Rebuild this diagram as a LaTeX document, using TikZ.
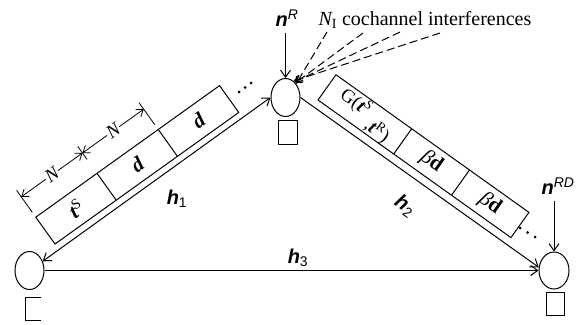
\documentclass[tikz,border=0pt]{standalone}
\usepackage{fontspec}
\setmainfont{Liberation Serif}
\newfontfamily\arialf{Liberation Sans}
\usetikzlibrary{arrows.meta,shapes.geometric,calc}
\begin{document}
\begin{tikzpicture}[x=1pt,y=-1pt,line width=1pt,
  tip/.style={-{Straight Barb[length=7pt,width=10pt]}},
  bitip/.style={{Straight Barb[length=7pt,width=10pt]}-{Straight Barb[length=7pt,width=10pt]}},
  dimtip/.style={line width=0.8pt,{Straight Barb[length=6pt,width=9pt]}-{Straight Barb[length=6pt,width=9pt]}},
  dtip/.style={dashed,dash pattern=on 8pt off 4pt,-{Straight Barb[length=6pt,width=8pt]}},
  nd/.style={draw,ellipse,minimum width=29pt,minimum height=38pt,inner sep=0pt},
  sq/.style={draw,minimum width=19pt,minimum height=24pt,inner sep=0pt},
  boxtxt/.style={font=\fontsize{21}{20}\selectfont,inner sep=0pt},
  gtxt/.style={font=\fontsize{19}{19}\selectfont,inner sep=0pt},
  ntxt/.style={font=\fontsize{19}{20}\selectfont\itshape,fill=white,inner sep=1pt},
  hlab/.style={font=\fontsize{20}{22}\selectfont\arialf,inner sep=0pt},
  ]
\useasboundingbox (0,0) rectangle (577,324);
% nodes
\node[nd] (S) at (29.5,270.5) {};
\node[nd] (R) at (285.5,97.5) {};
\node[nd,minimum width=30pt,minimum height=37pt] (D) at (554,270.5) {};
\node[sq] (sqR) at (287.5,132) {};
\node[sq,minimum width=18pt,minimum height=23pt] (sqD) at (555,303.5) {};
\draw (41,297) -- (25,297) -- (25,320) -- (41,320);
% links
\draw[bitip] (S.35) -- (R.west);
\draw[tip] (R.east) -- (D.168);
\draw[tip] (S.east) -- (D.west);
% labels
\node[hlab] (h1) at (177,199) {{\bfseries\itshape h}\textsubscript{1}};
\node[hlab,rotate=-35] (h2) at (405,206) {{\bfseries\itshape h}\textsubscript{2}};
\node[hlab] (h3) at (298,258) {{\bfseries\itshape h}\textsubscript{3}};
\node[hlab] (nR) at (287,18) {{\bfseries\itshape n}\textsuperscript{\itshape R}};
\node[hlab] (nRD) at (558,186) {{\bfseries\itshape n}\textsuperscript{\itshape RD}};
\draw[tip,shorten <=6pt] (nR.south -| R.north) -- (R.north);
\draw[tip,shorten <=6pt] (nRD.south -| D.north) -- (D.north);
\node[anchor=west,font=\fontsize{20}{22}\selectfont,inner sep=0pt] (NI) at (318,20) {{\itshape N}\textsubscript{I} cochannel interferences};
\coordinate (i1) at (327,32);
\coordinate (i2) at (363,33);
\coordinate (i3) at (400,32);
\coordinate (i4) at (440,33);
\draw[dtip] (i1) -- (R.52);
\draw[dtip] (i2) -- (R.56);
\draw[dtip] (i3) -- (R.60);
\draw[dtip] (i4) -- (R.64);
% box 1
\begin{scope}[shift={(55,244)},rotate=35.6]
  \draw (0,0) rectangle (226,-33);
  \draw (75.3,0) -- (75.3,-33) (150.6,0) -- (150.6,-33);
  \node[boxtxt,rotate=35.6] (c11) at (37.6,-16.5) {{\bfseries\itshape t}\textsuperscript{S}};
  \node[boxtxt,rotate=35.6] (c12) at (113,-16.5) {{\bfseries\itshape d}};
  \node[boxtxt,rotate=35.6] (c13) at (188.3,-16.5) {{\bfseries\itshape d}};
  \draw[line width=0.8pt] (0,-39) -- (0,-66) (150.6,-39) -- (150.6,-66) (75.3,-50) -- (75.3,-66);
  \draw[dimtip] (0,-58) -- (75.3,-58);
  \draw[dimtip] (75.3,-58) -- (150.6,-58);
  \node[ntxt,rotate=35.6] (N1) at (37.6,-58) {N};
  \node[ntxt,rotate=35.6] (N2) at (113,-58) {N};
\end{scope}
\foreach \p in {(239,92),(245,87.5),(251,83)} \fill \p circle[radius=1.5pt];
% box 2
\begin{scope}[shift={(318,100)},rotate=-35.5]
  \draw (0,0) rectangle (237,-31);
  \draw (93,0) -- (93,-31) (164,0) -- (164,-31);
  \node[gtxt,rotate=-35.5] (c21a) at (32,-20) {G({\bfseries\itshape t}\textsuperscript{\itshape S}};
  \node[gtxt,rotate=-35.5] (c21b) at (66,-9) {,{\bfseries\itshape t}\textsuperscript{R})};
  \node[boxtxt,rotate=-35.5] (c22) at (128.5,-15.5) {{\itshape β}{\bfseries d}};
  \node[boxtxt,rotate=-35.5] (c23) at (200.5,-15.5) {{\itshape β}{\bfseries d}};
\end{scope}
\foreach \p in {(520,228),(527.5,232.5),(535,237)} \fill \p circle[radius=1.5pt];
\end{tikzpicture}
\end{document}
